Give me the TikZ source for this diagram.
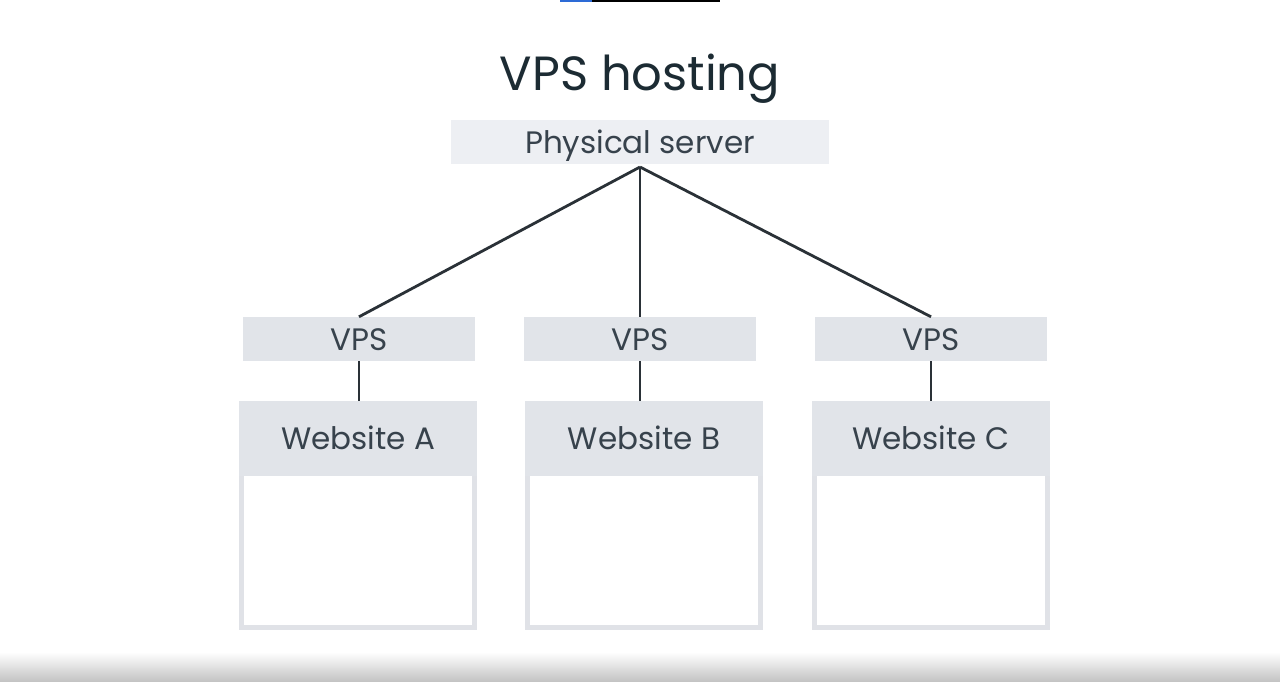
\documentclass[tikz,border=0pt]{standalone}
\usepackage{fontspec}
\setmainfont{Poppins}
\usetikzlibrary{positioning}
\definecolor{titledark}{HTML}{1C2B33}
\definecolor{labelgray}{HTML}{37424C}
\definecolor{vpsgray}{HTML}{E1E4E9}
\definecolor{servergray}{HTML}{EDEFF3}
\definecolor{bordergray}{HTML}{E0E2E7}
\definecolor{linkdark}{HTML}{2A3137}
\definecolor{bandgray}{HTML}{C4C4C4}
\definecolor{barblue}{HTML}{2D6BD6}
\begin{document}
\begin{tikzpicture}[x=1pt,y=-1pt]
\tikzset{box/.style={rectangle, fill=vpsgray, inner sep=0pt, text=labelgray,
    font=\fontsize{31}{31}\selectfont, text height=22pt, text depth=0pt},
  webbox/.style={rectangle, draw=bordergray, line width=5pt, fill=white, inner sep=0pt},
  link/.style={draw=linkdark, line width=2.8pt}}

\useasboundingbox (0,0) rectangle (1280,681);
\fill[white] (0,0) rectangle (1280,681);
\shade[top color=white, bottom color=bandgray] (0,652) rectangle (1280,681);
\fill[barblue] (560,0) rectangle (592,1.5);
\fill[black] (592,0) rectangle (720,1.5);

\node[font=\fontsize{48}{48}\selectfont, text=titledark, inner sep=0pt,
  text height=34pt, text depth=0pt] (title) at (640,73) {VPS hosting};
\node[box, fill=servergray, minimum width=378pt, minimum height=44pt] (server) at (640,142) {Physical server};
\coordinate (hub) at (640,167);

% one column per website
\foreach \n/\vx/\wx in {A/359/358, B/640/644, C/931/930.5}{
  \node[box, minimum width=232pt, minimum height=44pt] (vps\n) at (\vx,339) {VPS};
  \node[webbox, minimum width=233pt, minimum height=224pt] (web\n) at (\wx,515.5) {};
  \node[box, minimum width=238pt, minimum height=75pt] (head\n) at (\wx,438.5) {Website \n};
  \draw[link] (hub) -- (vps\n.north);
  \draw[link] (vps\n.south) -- (vps\n.south |- head\n.north);
}
\end{tikzpicture}
\end{document}
